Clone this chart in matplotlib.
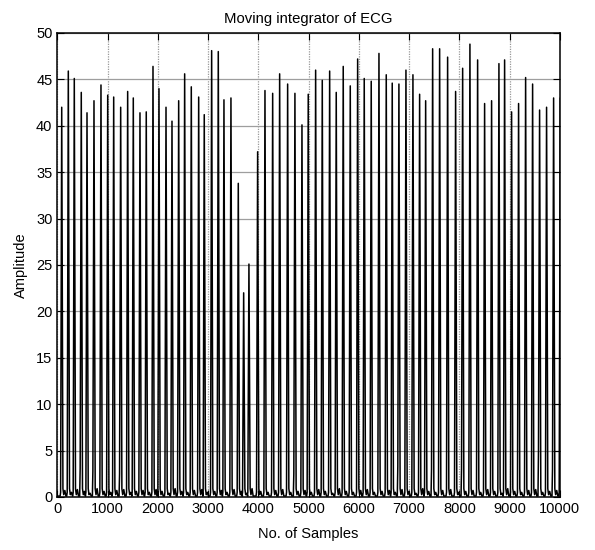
import matplotlib
matplotlib.use("Agg")
import matplotlib.pyplot as plt

plt.rcParams["font.family"] = ["Liberation Sans", "DejaVu Sans"]

# QRS peak positions (samples) and heights
peak_pos = [
    88, 219, 338, 477, 591, 730, 869, 1003, 1122, 1261, 1400, 1512, 1645, 1770,
    1904, 2023, 2163, 2282, 2415, 2534, 2666, 2813, 2924, 3071, 3203, 3316, 3455,
    3601, 3708, 3813, 3986, 4132, 4285, 4424, 4583, 4728, 4868, 4993, 5140, 5272,
    5419, 5550, 5689, 5829, 5976, 6107, 6246, 6400, 6545, 6664, 6797, 6937, 7076,
    7209, 7329, 7468, 7607, 7766, 7925, 8065, 8210, 8363, 8502, 8641, 8787, 8900,
    9039, 9178, 9318, 9457, 9596, 9735, 9875, 10008,
]
peak_amp = [
    42.0, 45.9, 45.1, 43.6, 41.4, 42.7, 44.4, 43.3, 43.1, 42.0, 43.7, 43.0, 41.4,
    41.5, 46.4, 44.0, 42.0, 40.5, 42.7, 45.6, 44.2, 43.1, 41.2, 48.1, 48.0, 42.8,
    43.0, 33.8, 22.0, 25.1, 37.2, 43.8, 43.5, 45.6, 44.5, 43.5, 40.1, 43.4, 46.0,
    44.9, 45.9, 43.6, 46.4, 44.3, 47.2, 45.1, 44.8, 47.8, 45.5, 44.6, 44.5, 46.0,
    45.5, 43.4, 42.7, 48.3, 48.3, 47.4, 43.7, 46.2, 48.8, 47.1, 42.4, 42.7, 46.7,
    47.1, 41.5, 42.4, 45.2, 44.5, 41.7, 42.0, 43.0, 43.0,
]
# little steps on the rising edges (beat index -> amplitude)
shoulders = {14: 31.5, 16: 28.6, 24: 32.0, 42: 30.9, 58: 29.5, 61: 32.0, 63: 29.1}
# taller feet at the base of some beats
feet = {3: 3.1, 5: 2.8, 9: 2.5, 35: 2.5, 50: 3.3, 55: 3.0, 59: 3.0, 70: 5.0, 72: 3.0}
# small T-wave bump after each beat
t_bump = [0.7, 0.5, 0.8, 0.6, 0.4, 0.9, 0.6, 0.5, 0.7, 0.8, 0.5, 0.6]

xs, ys = [0], [0.1]
for i, (p, a) in enumerate(zip(peak_pos, peak_amp)):
    xs += [p - 32, p - 22]
    ys += [0.1, feet.get(i, 0.5)]
    if i in shoulders:
        xs += [p - 6, p - 5]
        ys += [shoulders[i], shoulders[i] + 0.4]
    xs += [p, p + 24, p + 40, p + 62, p + 84]
    ys += [a, 0.9, 0.25, t_bump[i % len(t_bump)], 0.1]

fig = plt.figure(figsize=(5.95, 5.5), dpi=100)
ax = fig.add_axes([0.0963, 0.0964, 0.8447, 0.8436])
ax.plot(xs, ys, color="black", linewidth=1.1)

ax.set_xlim(0, 10000)
ax.set_ylim(0, 50)
ax.set_xticks(range(0, 10001, 1000))
ax.set_yticks(range(0, 51, 5))
ax.set_axisbelow(True)
ax.yaxis.grid(True, color="0.62", linestyle="-", linewidth=0.9)
ax.xaxis.grid(True, color="0.6", linestyle=(0, (1, 1)), linewidth=0.9)
ax.tick_params(direction="in", top=True, right=True, length=5, labelsize=10.5)
for s in ax.spines.values():
    s.set_linewidth(1.1)

ax.set_title("Moving integrator of ECG", fontsize=10.7, pad=7)
ax.set_xlabel("No. of Samples", fontsize=10.5, labelpad=8)
ax.set_ylabel("Amplitude", fontsize=10.5, labelpad=6)

fig.savefig("out.png", dpi=100)
